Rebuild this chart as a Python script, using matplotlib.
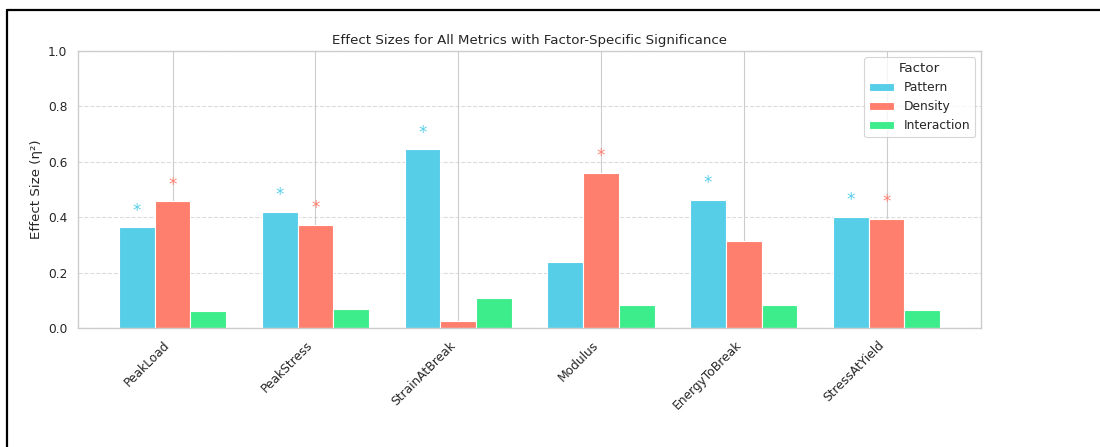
import matplotlib
matplotlib.use("Agg")
import matplotlib.pyplot as plt
import seaborn as sns
import numpy as np
from matplotlib.lines import Line2D

metrics = ["PeakLoad", "PeakStress", "StrainAtBreak", "Modulus", "EnergyToBreak", "StressAtYield"]
pattern = [0.363, 0.420, 0.645, 0.237, 0.463, 0.400]
density = [0.457, 0.372, 0.027, 0.561, 0.314, 0.394]
interaction = [0.062, 0.068, 0.108, 0.082, 0.083, 0.064]
# significance flags per factor (Pattern, Density, Interaction)
sig_pattern = [True, True, True, False, True, True]
sig_density = [True, True, False, True, False, True]
sig_interaction = [False, False, False, False, False, False]

factors = ["Pattern", "Density", "Interaction"]
colors = ["#57CEE8", "#FF7F6E", "#3DEC8A"]

sns.set_theme(style="whitegrid", context="notebook")
plt.rcParams['font.family'] = ['DejaVu Sans']

# 1100x447 px at 80 dpi
fig, ax = plt.subplots(figsize=(13.75, 5.5875), dpi=80)
fig.subplots_adjust(left=0.0709, right=0.892, top=0.886, bottom=0.266)

x = np.arange(len(metrics))
width = 0.25
series = [pattern, density, interaction]
sigs = [sig_pattern, sig_density, sig_interaction]

for i, (vals, sig, name, col) in enumerate(zip(series, sigs, factors, colors)):
    pos = x + (i - 1) * width
    ax.bar(pos, vals, width, label=name, color=col, edgecolor="white", linewidth=1, zorder=2)
    for p, v, s in zip(pos, vals, sig):
        if s:
            ax.text(p, v + 0.028, "*", ha="center", va="bottom", color=col, fontsize=15)

ax.set_ylim(0, 1.0)
ax.set_xticks(x)
ax.set_xticklabels(metrics, rotation=45, ha="right")
ax.set_ylabel("Effect Size (η²)")
ax.set_title("Effect Sizes for All Metrics with Factor-Specific Significance")
ax.yaxis.grid(True, linestyle="--", alpha=0.7)
ax.xaxis.grid(True)
ax.set_axisbelow(True)
ax.legend(title="Factor", loc="upper right")

# black frame round the figure (cropped at right and bottom)
fig.add_artist(Line2D([7 / 1100, 1.0], [1 - 10 / 447, 1 - 10 / 447], color="black", lw=2.0, transform=fig.transFigure))
fig.add_artist(Line2D([7 / 1100, 7 / 1100], [0.0, 1 - 10 / 447], color="black", lw=2.0, transform=fig.transFigure))

plt.savefig("out.png", dpi=80)
